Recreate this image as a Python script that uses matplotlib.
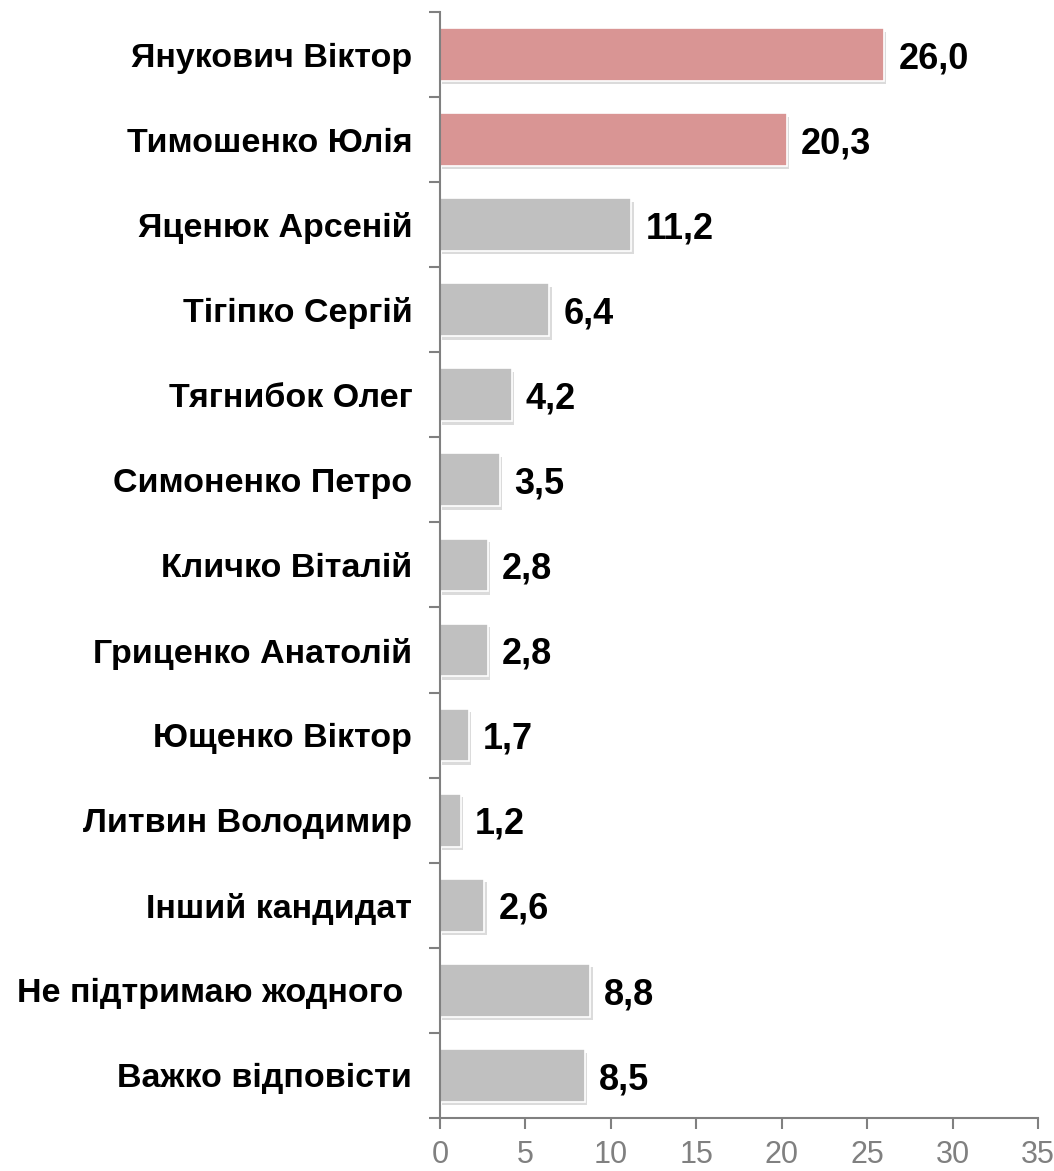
import matplotlib
matplotlib.use("Agg")
import matplotlib.pyplot as plt
import matplotlib.patheffects as pe
import numpy as np

plt.rcParams['font.family'] = ['Liberation Sans', 'DejaVu Sans']

names = ['Янукович Віктор', 'Тимошенко Юлія', 'Яценюк Арсеній', 'Тігіпко Сергій',
         'Тягнибок Олег', 'Симоненко Петро', 'Кличко Віталій', 'Гриценко Анатолій',
         'Ющенко Віктор', 'Литвин Володимир', 'Інший кандидат',
         'Не підтримаю жодного ', 'Важко відповісти']
values = [26.0, 20.3, 11.2, 6.4, 4.2, 3.5, 2.8, 2.8, 1.7, 1.2, 2.6, 8.8, 8.5]
highlight = ['Янукович Віктор', 'Тимошенко Юлія']
xticks = [0, 5, 10, 15, 20, 25, 30, 35]

pink = '#D99594'
grey = '#C0C0C0'
axis_c = '#808080'

fig = plt.figure(figsize=(10.54, 11.71), dpi=100)
ax = fig.add_axes([0.4175, 0.0453, 0.5675, 0.9445])

n = len(names)
y = np.arange(n)
colors = [pink if nm in highlight else grey for nm in names]
bars = ax.barh(y, values, height=0.62, color=colors, edgecolor='white', linewidth=1.2,
               zorder=2)
for b in bars:
    b.set_path_effects([pe.SimplePatchShadow(offset=(1.5, -2.5), shadow_rgbFace='#b0b0b0',
                                             alpha=0.45), pe.Normal()])

for yi, v in zip(y, values):
    ax.annotate(f'{v:.1f}'.replace('.', ','), (v, yi), xytext=(10, -3),
                textcoords='offset points', va='center', ha='left',
                fontsize=26, fontweight='bold', color='black')

ax.set_ylim(n - 0.5, -0.5)
ax.set_xlim(0, 35)
ax.set_xticks(xticks)
ax.set_xticklabels([str(t) for t in xticks], fontsize=22, color=axis_c)

ax.set_yticks(y)
ax.set_yticklabels(names, fontsize=24.5, fontweight='bold', color='black')
ax.set_yticks(np.arange(n + 1) - 0.5, minor=True)
ax.tick_params(axis='y', which='major', length=0, pad=20)
ax.tick_params(axis='y', which='minor', length=8, width=1.5, color=axis_c, direction='out')
ax.tick_params(axis='x', length=8, width=1.5, color=axis_c, pad=8)

for s in ['top', 'right']:
    ax.spines[s].set_visible(False)
for s in ['left', 'bottom']:
    ax.spines[s].set_color(axis_c)
    ax.spines[s].set_linewidth(1.5)

fig.savefig('out.png', dpi=100)
